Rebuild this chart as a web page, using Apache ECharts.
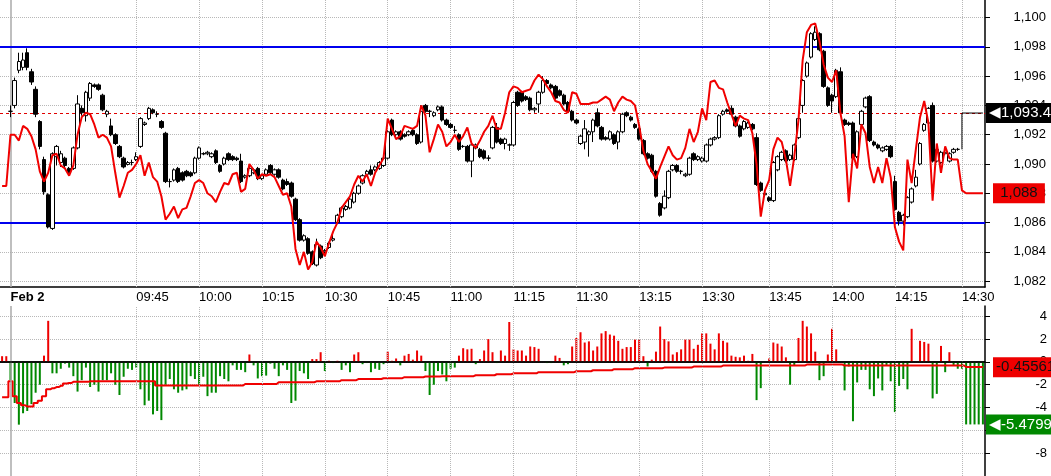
<!DOCTYPE html>
<html><head><meta charset="utf-8">
<script src="https://cdn.jsdelivr.net/npm/echarts@6/dist/echarts.min.js"></script>
<style>html,body{margin:0;padding:0;background:#fff}#c{width:1051px;height:476px}</style>
</head><body><div id="c"></div>
<script>
const N = 235;
const tickIdx = [32,47,62,77,92,107,122,137,152,167,183,198,213,229];
const tickLab = ['09:45','10:00','10:15','10:30','10:45','11:00','11:15','11:30','13:15','13:30','13:45','14:00','14:15','14:30'];
const priceTicks = [1082,1084,1086,1088,1090,1092,1094,1096,1098,1100];
const oscTicks = [-8,-6,-4,-2,0,2,4];
const bandLevels = [1098,1086];
const lastPrice = 1093.48, lastRed = 1088, lastOsc = -5.47998, lastSig = -0.45561;
// [open, close, low, high]
const candles = [['-','-','-','-'],['-','-','-','-'],
[1093.6,1093.6,1093.2,1094.0],[1094.0,1095.7,1093.8,1095.9],[1096.4,1097.0,1096.2,1097.6],[1096.6,1097.1,1096.4,1097.6],[1097.6,1096.6,1096.4,1097.9],[1096.3,1095.6,1095.4,1096.5],[1095.1,1093.4,1093.2,1095.3],[1092.9,1091.2,1091.0,1093.0],
[1090.3,1088.1,1087.9,1090.5],[1087.9,1085.7,1085.6,1088.0],[1085.6,1090.7,1085.5,1090.8],[1090.5,1091.2,1089.9,1091.3],[1090.1,1090.7,1089.8,1090.9],[1090.4,1089.9,1089.7,1090.5],[1089.7,1089.4,1089.2,1089.8],[1089.7,1091.1,1089.6,1091.2],
[1091.1,1094.1,1091.0,1094.7],[1093.8,1093.5,1093.3,1094.0],[1093.3,1094.9,1092.9,1095.0],[1094.5,1095.5,1094.3,1095.6],[1095.4,1095.3,1095.2,1095.5],[1095.4,1095.1,1095.0,1095.5],[1094.7,1093.7,1093.6,1094.8],[1093.4,1093.6,1093.2,1093.7],
[1092.6,1092.0,1091.9,1093.1],[1092.0,1091.4,1091.3,1092.1],[1091.2,1090.5,1090.4,1091.3],[1090.4,1089.8,1089.7,1090.5],[1089.97,1090.1,1089.9,1090.2],[1090.1,1090.1,1089.9,1090.3],[1090.3,1090.5,1090.2,1090.8],[1091.2,1093.1,1091.1,1093.2],
[1092.7,1092.8,1092.6,1092.9],[1093.1,1093.8,1093.0,1093.9],[1093.7,1093.5,1093.4,1093.8],[1093.4,1093.4,1093.2,1093.6],[1092.9,1092.5,1092.4,1093.0],[1092.1,1088.8,1088.7,1092.2],[1088.8,1088.8,1088.4,1089.0],[1088.9,1089.6,1088.8,1089.7],
[1089.7,1088.8,1088.7,1089.8],[1089.4,1088.9,1088.8,1089.5],[1089.5,1089.2,1089.1,1089.6],[1089.4,1089.2,1089.1,1089.5],[1089.4,1090.4,1089.3,1090.5],[1090.4,1091.1,1090.3,1091.2],[1090.7,1090.7,1090.6,1090.8],[1090.7,1090.8,1090.6,1090.9],
[1090.5,1090.7,1090.4,1090.8],[1090.9,1090.1,1090.0,1091.0],[1089.9,1089.5,1089.4,1090.0],[1090.0,1090.4,1089.9,1090.5],[1090.7,1090.3,1090.2,1090.8],[1090.5,1090.3,1090.2,1090.6],[1090.4,1090.3,1090.2,1090.5],[1090.2,1088.8,1088.7,1090.7],
[1089.1,1089.2,1089.0,1089.3],[1089.2,1089.7,1089.1,1089.8],[1089.4,1089.6,1089.3,1089.7],[1089.7,1089.0,1088.9,1089.8],[1089.0,1089.2,1088.9,1089.3],[1089.3,1089.6,1089.2,1089.7],[1089.9,1089.4,1089.3,1090.0],[1089.3,1089.6,1089.2,1089.7],
[1089.6,1089.1,1089.0,1089.7],[1088.9,1088.3,1088.2,1089.0],[1088.8,1088.6,1088.5,1089.0],[1088.7,1087.8,1087.7,1088.8],[1087.6,1086.2,1086.1,1087.7],[1086.2,1084.8,1084.7,1086.3],[1084.8,1085.1,1084.7,1085.2],[1084.9,1083.9,1083.8,1085.0],
[1084.0,1083.2,1083.1,1084.1],[1083.1,1084.5,1083.0,1084.9],[1084.4,1083.6,1083.5,1084.5],[1084.0,1084.1,1083.9,1084.2],[1084.3,1084.6,1084.2,1084.7],[1084.8,1084.9,1084.7,1085.2],[1086.0,1086.5,1085.9,1086.6],[1086.4,1087.0,1086.3,1087.1],
[1086.9,1087.1,1086.8,1087.2],[1087.0,1087.6,1086.9,1087.7],[1087.4,1088.0,1087.3,1088.1],[1088.0,1088.5,1087.9,1088.6],[1088.7,1089.2,1088.6,1089.3],[1089.3,1089.5,1089.2,1089.6],[1089.6,1089.3,1089.2,1089.9],[1089.6,1089.8,1089.5,1089.9],
[1089.7,1090.1,1089.6,1090.2],[1089.9,1090.4,1089.8,1090.5],[1090.4,1092.2,1090.3,1092.3],[1093.0,1092.0,1091.9,1093.1],[1092.0,1092.2,1091.9,1092.3],[1092.2,1091.7,1091.6,1092.3],[1092.0,1091.9,1091.8,1092.1],[1092.0,1092.2,1091.9,1092.3],
[1092.3,1092.0,1091.9,1092.4],[1092.0,1091.4,1091.3,1092.1],[1091.5,1093.6,1091.4,1094.0],[1094.0,1093.6,1093.5,1094.1],[1093.6,1093.6,1093.2,1093.7],[1093.3,1093.5,1093.2,1093.6],[1093.7,1093.9,1093.6,1094.0],[1093.9,1093.0,1092.9,1094.0],
[1093.0,1092.7,1092.6,1093.1],[1092.7,1092.5,1092.4,1092.8],[1092.3,1092.3,1092.1,1092.6],[1092.0,1091.0,1090.9,1092.1],[1091.2,1091.2,1091.1,1091.3],[1091.2,1090.2,1090.1,1091.3],[1090.2,1091.3,1089.1,1091.4],[1091.1,1091.3,1091.0,1091.4],
[1091.0,1090.5,1090.4,1091.1],[1090.9,1090.4,1090.3,1091.0],[1090.4,1090.4,1090.2,1090.6],[1091.1,1092.5,1091.0,1092.6],[1092.5,1091.5,1091.4,1092.8],[1091.7,1091.4,1091.3,1091.8],[1091.4,1091.7,1091.0,1091.8],[1091.3,1091.3,1090.9,1091.4],
[1091.3,1094.2,1091.2,1094.3],[1094.9,1094.0,1093.9,1095.0],[1094.9,1094.3,1094.2,1095.0],[1094.6,1094.4,1094.3,1094.7],[1094.5,1093.7,1093.6,1094.6],[1093.7,1093.8,1093.5,1093.9],[1094.1,1094.9,1093.5,1095.0],[1094.9,1095.7,1094.8,1096.0],
[1095.7,1095.5,1095.4,1095.8],[1095.4,1095.2,1095.1,1095.5],[1095.3,1094.5,1094.4,1095.4],[1095.0,1094.7,1094.6,1095.1],[1094.7,1094.1,1094.0,1094.8],[1094.2,1093.6,1093.5,1094.3],[1093.6,1093.0,1092.9,1093.7],[1093.0,1092.8,1092.7,1093.1],
[1091.4,1091.9,1091.3,1092.0],[1091.5,1092.4,1091.0,1093.0],[1092.0,1092.2,1090.5,1092.3],[1092.2,1093.0,1091.5,1093.1],[1093.5,1092.6,1092.5,1093.8],[1092.5,1091.7,1091.6,1092.6],[1091.8,1091.7,1091.6,1091.9],[1091.7,1092.2,1091.6,1092.3],
[1092.0,1091.4,1091.3,1092.1],[1091.5,1092.2,1091.0,1092.3],[1092.2,1093.4,1092.1,1093.5],[1093.5,1093.3,1093.2,1093.6],[1093.2,1093.0,1092.9,1093.3],[1092.7,1092.5,1092.4,1092.8],[1092.4,1091.7,1091.6,1092.5],[1091.6,1090.7,1090.6,1091.7],
[1090.7,1090.4,1090.3,1090.8],[1090.6,1089.5,1089.4,1090.7],[1089.5,1087.8,1087.7,1089.6],[1087.3,1086.5,1086.4,1087.4],[1087.0,1087.8,1086.9,1088.2],[1087.7,1089.5,1087.6,1089.6],[1089.6,1089.9,1089.5,1090.0],[1089.9,1089.5,1089.4,1090.0],
[1089.5,1089.5,1089.3,1089.6],[1089.2,1089.3,1089.1,1089.4],[1089.3,1090.4,1089.2,1090.5],[1090.7,1090.3,1090.2,1090.8],[1090.3,1090.5,1090.2,1090.6],[1090.2,1090.4,1090.1,1090.5],[1090.2,1091.3,1090.1,1091.4],[1091.3,1091.7,1091.2,1091.8],
[1091.7,1091.8,1091.6,1091.9],[1091.8,1093.3,1091.7,1093.4],[1093.4,1093.6,1093.3,1093.7],[1093.7,1093.6,1093.5,1093.8],[1093.8,1093.4,1093.3,1094.0],[1093.2,1092.6,1092.5,1093.3],[1092.6,1091.9,1091.8,1092.7],[1092.4,1092.9,1092.3,1093.0],
[1092.5,1092.8,1092.4,1092.9],[1092.7,1092.4,1092.3,1092.8],[1091.8,1088.6,1088.5,1092.1],[1088.7,1088.2,1088.1,1088.8],[1087.9,1088.0,1087.8,1088.1],[1087.7,1087.5,1087.4,1087.8],[1087.5,1090.1,1087.4,1090.2],[1089.6,1090.5,1089.5,1090.6],
[1090.3,1090.8,1090.2,1090.9],[1090.9,1090.2,1090.1,1091.0],[1090.3,1090.6,1090.2,1090.7],[1090.3,1091.3,1090.2,1091.4],[1091.8,1093.1,1091.7,1093.2],[1094.0,1095.7,1093.5,1095.8],[1096.0,1096.9,1095.9,1097.0],[1097.3,1098.9,1097.2,1099.0],
[1098.5,1099.0,1098.4,1099.4],[1098.9,1097.8,1097.7,1099.0],[1097.7,1095.3,1095.2,1097.8],[1095.2,1094.0,1093.9,1095.3],[1094.7,1094.3,1093.5,1094.8],[1094.6,1096.4,1094.5,1096.5],[1096.3,1093.5,1093.4,1096.6],[1093.0,1092.7,1092.6,1093.1],
[1092.8,1092.7,1092.6,1092.9],[1092.8,1090.4,1090.3,1092.9],[1090.5,1092.2,1090.4,1092.3],[1092.7,1093.6,1092.6,1093.7],[1093.9,1094.5,1093.8,1094.6],[1094.6,1091.6,1091.5,1094.7],[1091.5,1091.3,1091.2,1091.6],[1091.3,1091.1,1091.0,1091.4],
[1090.9,1091.1,1090.8,1091.2],[1091.0,1091.2,1090.9,1091.3],[1091.2,1090.5,1090.4,1091.3],[1088.8,1086.9,1086.8,1089.2],[1086.7,1086.1,1085.8,1086.8],[1086.1,1086.5,1085.8,1086.6],[1086.4,1087.7,1086.3,1087.8],[1087.4,1088.3,1087.3,1088.4],
[1088.5,1089.1,1088.4,1089.6],[1090.0,1091.4,1089.9,1091.5],[1092.3,1092.7,1092.2,1092.8],[1092.8,1093.8,1092.7,1093.9],[1094.0,1090.2,1090.1,1094.2],[1090.2,1091.0,1090.1,1091.1],[1090.1,1090.8,1090.0,1090.9],[1090.7,1090.8,1090.6,1090.9],
[1090.2,1090.7,1090.1,1090.8],[1090.8,1091.0,1090.7,1091.1],[1091.0,1091.0,1090.9,1091.1]];
const redLine = [1088.5,1088.5,1092.0,1092.0,1091.6,1092.6,1092.4,1091.9,1091.0,1089.5,1088.8,1089.4,1090.6,1090.7,1089.9,1089.7,1089.2,1089.9,1092.0,1093.2,
1093.5,1093.4,1092.7,1091.8,1092.0,1091.8,1091.2,1089.4,1087.7,1088.5,1089.4,1089.6,1090.0,1090.6,1089.2,1090.1,1089.1,1088.8,1087.8,1086.2,
1086.6,1087.1,1086.3,1086.9,1087.0,1087.8,1088.7,1088.9,1088.7,1088.0,1087.8,1087.4,1088.1,1088.7,1088.6,1089.3,1089.4,1088.1,1088.3,1090.0,
1089.6,1089.0,1089.3,1089.2,1089.3,1089.1,1088.5,1087.9,1088.0,1087.1,1084.2,1083.1,1084.0,1082.8,1083.3,1084.7,1084.3,1083.7,1084.6,1085.4,
1086.0,1087.0,1087.4,1087.8,1088.6,1089.2,1088.8,1089.3,1088.5,1089.4,1089.9,1090.4,1093.1,1092.4,1091.7,1091.9,1092.6,1092.5,1092.4,1092.6,
1094.0,1093.3,1090.8,1091.7,1092.7,1092.2,1091.2,1091.5,1092.0,1091.5,1091.9,1092.5,1091.4,1091.1,1091.6,1092.2,1092.6,1093.3,1092.4,1092.4,
1093.5,1094.9,1095.3,1095.2,1094.9,1095.0,1095.1,1095.7,1096.1,1095.8,1095.3,1094.9,1094.3,1094.2,1093.7,1093.5,1094.9,1094.8,1094.1,1094.1,
1094.1,1094.2,1094.2,1094.4,1094.6,1094.4,1093.6,1094.2,1094.6,1094.4,1094.3,1094.0,1092.6,1090.9,1090.0,1089.5,1089.0,1089.8,1090.5,1091.2,
1090.6,1090.3,1090.4,1091.1,1092.4,1091.5,1092.2,1093.8,1093.0,1095.6,1095.7,1095.2,1095.1,1094.2,1093.4,1092.6,1093.3,1093.1,1093.0,1092.1,
1090.0,1086.4,1088.2,1088.9,1091.0,1091.8,1091.5,1090.3,1088.5,1090.5,1093.0,1097.1,1099.0,1099.5,1099.6,1098.4,1096.8,1095.9,1095.6,1096.4,
1093.5,1091.9,1087.4,1090.7,1089.7,1092.7,1092.1,1089.8,1088.7,1089.8,1088.7,1090.4,1089.1,1085.7,1084.7,1084.1,1090.3,1088.7,1091.0,1093.2,
1094.3,1092.8,1087.5,1091.4,1089.4,1091.2,1090.4,1090.3,1090.3,1088.2,1088.0,1088.0,1088.0,1088.0,1088.0];
const osc = [0.5,0.5,-1.6,-3.6,-5.5,-4.5,-4.3,-3.7,-2.7,-2.0,0.55,3.6,-1.0,-1.0,-0.6,-0.15,-0.5,-1.25,-2.6,-1.6,
-0.5,-2.2,-2.0,-2.6,-1.6,-1.6,-1.0,-2.0,-2.9,-1.3,-0.6,-0.7,-0.5,-2.4,-3.8,-3.4,-4.6,-4.3,-5.1,-2.0,
-1.5,-2.4,-2.7,-2.5,-2.4,-1.25,-1.5,-2.0,-1.3,-3.0,-2.7,-2.7,-1.25,-1.5,-1.7,-0.3,-0.7,-0.7,-0.9,0.65,
-0.3,-1.45,-1.25,-1.2,-0.15,-0.6,-1.25,-0.3,-0.7,-3.6,-3.4,-0.8,-1.0,-1.5,0.25,0.25,0.85,-0.8,0.1,-0.1,
0.1,-0.7,-0.3,-0.9,0.65,0.85,-0.2,-0.1,-0.9,-0.6,-0.7,-0.2,0.9,0.1,0.3,-0.3,0.55,0.7,0.2,1.0,
0.55,-0.8,-2.9,-2.0,-0.8,-1.1,-1.7,-0.6,-0.5,0.55,1.2,1.1,1.15,-0.2,0.25,1.0,2.0,0.85,-0.1,1.0,
0.55,3.5,1.1,1.0,1.0,0.55,1.35,1.3,1.15,0,-0.1,-0.1,0.55,0.35,-0.3,-0.2,1.35,2.1,2.6,1.7,
1.8,1.0,1.35,2.5,2.7,2.4,2.3,1.85,1.15,1.3,1.3,1.95,1.95,0.5,-0.4,0.2,0.9,3.1,2.0,1.8,
0.65,0.85,1.1,1.95,1.95,1.15,1.5,2.5,2.5,1.6,1.1,2.5,1.85,1.7,0.55,0.45,0.4,0.55,0.1,0.7,
-3.35,-2.3,0,0.3,1.7,1.6,1.35,0.4,-2.0,-0.3,2.1,3.6,3.1,2.5,0.9,-1.6,-1.25,0.65,2.9,1.1,
0,-2.5,-0.4,-5.2,-1.8,-0.7,-0.7,-2.4,-3.0,-1.45,-2.5,-0.3,-1.7,-4.4,-2.1,-1.5,-2.4,2.9,0,1.85,
1.75,1.6,-3.2,-2.8,1.4,-0.9,0.85,-0.3,-0.6,-0.6,-5.48,-5.48,-5.48,-5.48,-5.48];
const signal = [-3.1,-3.1,-1.7,-3.0,-3.6,-3.8,-3.9,-3.9,-3.6,-3.4,-3.0,-2.4,-2.3,-2.2,-2.1,-1.9,-1.85,-1.75,-1.75,-1.75,
-1.75,-1.7,-1.7,-1.7,-1.7,-1.7,-1.7,-1.7,-1.7,-1.7,-1.7,-1.7,-1.7,-1.7,-1.7,-1.7,-1.7,-2.07,-2.07,-2.07,
-2.07,-2.07,-2.07,-2.07,-2.07,-2.07,-2.07,-2.07,-2.07,-2.07,-2.07,-2.07,-2.07,-2.07,-2.07,-2.07,-2.07,-2.07,-1.93,-1.93,
-1.93,-1.93,-1.93,-1.93,-1.93,-1.93,-1.78,-1.78,-1.78,-1.78,-1.78,-1.78,-1.78,-1.78,-1.78,-1.7,-1.7,-1.7,-1.7,-1.7,
-1.7,-1.6,-1.6,-1.6,-1.6,-1.5,-1.5,-1.5,-1.5,-1.5,-1.5,-1.43,-1.43,-1.43,-1.43,-1.43,-1.34,-1.34,-1.34,-1.34,
-1.34,-1.28,-1.28,-1.28,-1.28,-1.25,-1.25,-1.25,-1.25,-1.25,-1.25,-1.25,-1.25,-1.17,-1.17,-1.17,-1.17,-1.17,-1.08,-1.08,
-1.08,-1.08,-1.0,-1.0,-1.0,-1.0,-1.0,-1.0,-0.9,-0.9,-0.9,-0.9,-0.9,-0.9,-0.9,-0.9,-0.9,-0.82,-0.82,-0.82,
-0.82,-0.73,-0.73,-0.73,-0.73,-0.73,-0.64,-0.64,-0.64,-0.64,-0.64,-0.55,-0.55,-0.55,-0.55,-0.55,-0.55,-0.55,-0.5,-0.5,
-0.5,-0.5,-0.5,-0.5,-0.5,-0.41,-0.41,-0.41,-0.41,-0.41,-0.41,-0.41,-0.32,-0.32,-0.32,-0.32,-0.32,-0.32,-0.32,-0.32,
-0.32,-0.32,-0.32,-0.32,-0.32,-0.32,-0.32,-0.32,-0.32,-0.32,-0.32,-0.32,-0.23,-0.23,-0.23,-0.23,-0.23,-0.23,-0.23,-0.23,
-0.23,-0.32,-0.32,-0.32,-0.32,-0.32,-0.32,-0.32,-0.32,-0.32,-0.32,-0.32,-0.32,-0.32,-0.32,-0.32,-0.32,-0.32,-0.32,-0.32,
-0.32,-0.32,-0.32,-0.32,-0.32,-0.32,-0.32,-0.32,-0.32,-0.32,-0.45,-0.45,-0.45,-0.45,-0.45];
const lastStub = [[229,1091.0],[229,lastPrice],[234,lastPrice]];

const cats = [];
for (let i = 0; i < N; i++) cats.push(String(i));
const showTick = (i) => tickIdx.indexOf(i) >= 0;
const FONT = 'Liberation Sans';
const gridStyle = {type:'dotted', color:'#b8b8b8', width:1};
const fmtNum = v => v.toLocaleString('en-US');
const tag = (txt, bg, fg, y, dist) => ({yAxis:y, lineStyle:{color:'rgba(0,0,0,0)', width:0},
  label:{show:true, position:'end', formatter:txt, backgroundColor:bg, color:fg, fontFamily:FONT, fontSize:15, padding:[3,3,2,3], distance:dist}});
const vGrid = tickIdx.map(i => ({xAxis:String(i), lineStyle:gridStyle, label:{show:false}}));
const sepLine = {xAxis:'2', lineStyle:{type:'solid', color:'#aaa', width:1.5}, label:{show:false}};

const chart = echarts.init(document.getElementById('c'));
chart.setOption({
  animation:false,
  backgroundColor:'#fff',
  grid:[{left:0,right:66,top:0,height:287},{left:0,right:66,top:306,height:170}],
  xAxis:[
    {type:'category', data:cats, gridIndex:0, boundaryGap:true,
     axisLine:{lineStyle:{color:'#000',width:1.5}},
     axisTick:{interval:(i)=>showTick(i), alignWithLabel:true, length:5, lineStyle:{color:'#000'}},
     axisLabel:{interval:(i)=>showTick(i)||i===2, align:'left', margin:4, color:'#000', fontFamily:FONT, fontSize:13,
       formatter:(v,i)=> i===2 ? '{b|Feb 2}' : tickLab[tickIdx.indexOf(i)],
       rich:{b:{fontWeight:'bold', fontFamily:FONT, fontSize:13, color:'#000'}}},
     splitLine:{show:false}},
    {type:'category', data:cats, gridIndex:1, position:'top', boundaryGap:true,
     axisLine:{lineStyle:{color:'#000',width:1.5}}, axisTick:{show:false}, axisLabel:{show:false},
     splitLine:{show:false}}
  ],
  yAxis:[
    {type:'value', gridIndex:0, position:'right', min:1081.6, max:1101.2, scale:true,
     axisLine:{show:true, lineStyle:{color:'#000',width:1.5}},
     axisTick:{show:true, length:5, customValues:priceTicks, lineStyle:{color:'#000'}},
     axisLabel:{customValues:priceTicks, align:'right', margin:61, color:'#000', fontFamily:FONT, fontSize:13, formatter:fmtNum},
     splitLine:{show:true, lineStyle:gridStyle}},
    {type:'value', gridIndex:1, position:'right', min:-10, max:4.9,
     axisLine:{show:true, lineStyle:{color:'#000',width:1.5}},
     axisTick:{show:true, length:5, customValues:oscTicks, lineStyle:{color:'#000'}},
     axisLabel:{customValues:oscTicks, align:'right', margin:62, color:'#000', fontFamily:FONT, fontSize:13},
     splitLine:{show:true, lineStyle:gridStyle}}
  ],
  series:[
    {type:'candlestick', xAxisIndex:0, yAxisIndex:0, data:candles, barWidth:4, z:3,
     itemStyle:{color:'#fff', color0:'#000', borderColor:'#000', borderColor0:'#000', borderWidth:1},
     markLine:{symbol:'none', silent:true, animation:false, z:1, data:[
       ...vGrid, sepLine,
       {yAxis:bandLevels[0], lineStyle:{type:'solid', color:'#0000ee', width:2}, label:{show:false}},
       {yAxis:bandLevels[1], lineStyle:{type:'solid', color:'#0000ee', width:2}, label:{show:false}},
       {yAxis:lastPrice, lineStyle:{type:[3,3], color:'#e00000', width:1}, label:{show:false}}
     ]}},
    {type:'line', xAxisIndex:0, yAxisIndex:0, data:lastStub.map(p=>[String(p[0]),p[1]]), symbol:'none',
     lineStyle:{color:'#000', width:1},
     markLine:{symbol:'none', silent:true, data:[tag('◀1,093.48', '#000', '#fff', lastPrice, 1)]}},
    {type:'line', xAxisIndex:0, yAxisIndex:0, data:redLine, symbol:'none', z:4,
     lineStyle:{color:'#f00000', width:2},
     markLine:{symbol:'none', silent:true, data:[tag(' 1,088 ', '#ee0000', '#111', lastRed, 8)]}},
    {type:'bar', xAxisIndex:1, yAxisIndex:1, data:osc, barWidth:2,
     itemStyle:{color:(p)=> p.value >= 0 ? '#ee0000' : '#008800'},
     markLine:{symbol:'none', silent:true, data:[
       ...vGrid, sepLine,
       {yAxis:0, lineStyle:{type:'solid', color:'#000', width:1.5}, label:{show:false}},
       tag('◀-5.47998', '#008800', '#fff', lastOsc, 1)]}},
    {type:'line', xAxisIndex:1, yAxisIndex:1, data:signal, symbol:'none', step:'middle',
     lineStyle:{color:'#f00000', width:2},
     markLine:{symbol:'none', silent:true, data:[tag('-0.45561', '#ee0000', '#111', lastSig, 8)]}}
  ]
});
</script></body></html>
